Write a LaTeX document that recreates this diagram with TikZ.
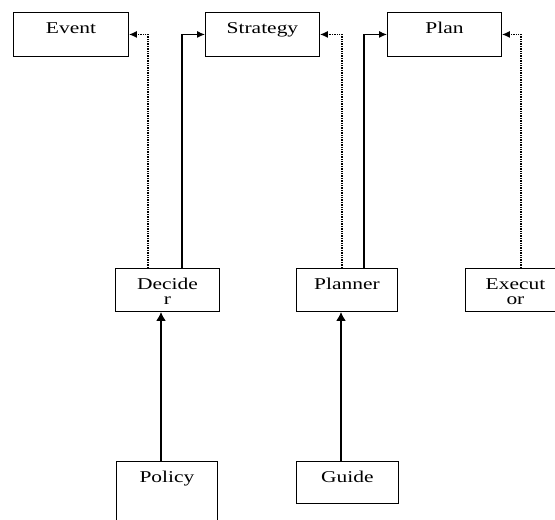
\documentclass[tikz,border=0pt]{standalone}
\usepackage{fontspec}
\setmainfont{Liberation Serif}
\usetikzlibrary{arrows.meta}
\newcommand\wtext[1]{\scalebox{1.3}[1]{#1}}
\tikzset{
  box/.style={draw, line width=0.9pt, anchor=north west, inner sep=0pt},
  boxlabel/.style={anchor=north, inner sep=0pt, yshift=-10pt, align=center,
    font=\fontsize{16.5}{15}\selectfont},
  dotline/.style={densely dotted, line width=1.4pt, -{Latex[length=8pt,width=7pt]}},
  solidline/.style={line width=1.2pt, -{Latex[length=8pt,width=7pt]}},
  thickline/.style={line width=2.2pt, -{Latex[length=9pt,width=10pt]}}
}
\begin{document}
\begin{tikzpicture}[x=1pt,y=-1pt]
  \useasboundingbox (0,0) rectangle (555,520);
  % top row
  \node[box, minimum width=115pt, minimum height=44pt,
    label={[boxlabel]north:\wtext{Event}}] (event) at (13,12) {};
  \node[box, minimum width=114pt, minimum height=44pt,
    label={[boxlabel]north:\wtext{Strategy}}] (strategy) at (205,12) {};
  \node[box, minimum width=114pt, minimum height=44pt,
    label={[boxlabel]north:\wtext{Plan}}] (plan) at (387,12) {};
  % middle row
  \node[box, minimum width=104pt, minimum height=43pt,
    label={[boxlabel]north:\wtext{Decide}\\\wtext{r}}] (decider) at (115,268) {};
  \node[box, minimum width=101pt, minimum height=43pt,
    label={[boxlabel]north:\wtext{Planner}}] (planner) at (296,268) {};
  \node[box, minimum width=100pt, minimum height=43pt,
    label={[boxlabel]north:\wtext{Execut}\\\wtext{or}}] (executor) at (465,268) {};
  % bottom row
  \node[box, minimum width=101pt, minimum height=70pt,
    label={[boxlabel]north:\wtext{Policy}}] (policy) at (116,461) {};
  \node[box, minimum width=102pt, minimum height=42pt,
    label={[boxlabel]north:\wtext{Guide}}] (guide) at (296,461) {};
  % connectors
  \draw[dotline] ([xshift=33pt]decider.north west) |- (event.east);
  \draw[solidline] ([xshift=67pt]decider.north west) |- (strategy.west);
  \draw[dotline] ([xshift=46pt]planner.north west) |- (strategy.east);
  \draw[solidline] ([xshift=68pt]planner.north west) |- (plan.west);
  \draw[dotline] ([xshift=56pt]executor.north west) |- (plan.east);
  \draw[thickline] ([xshift=45pt]policy.north west) -- ([xshift=45pt]policy.north west |- decider.south);
  \draw[thickline] ([xshift=45pt]guide.north west) -- ([xshift=45pt]guide.north west |- planner.south);
\end{tikzpicture}
\end{document}
